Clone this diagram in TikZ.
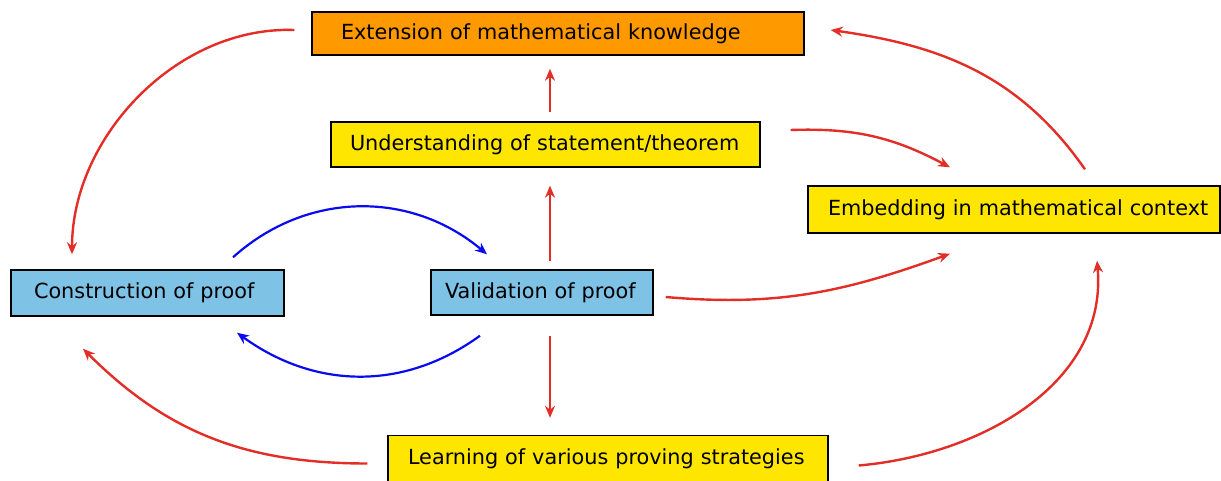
\documentclass[tikz,border=0pt]{standalone}
\usepackage{fontspec}
\setmainfont{DejaVu Sans}
\usetikzlibrary{arrows.meta}
\definecolor{boxorange}{RGB}{255,153,0}
\definecolor{boxyellow}{RGB}{255,230,0}
\definecolor{boxblue}{RGB}{126,194,230}
\definecolor{arrred}{RGB}{226,46,38}
\definecolor{arrblue}{RGB}{10,10,240}

\tikzset{
  stage/.style={draw=black, line width=0.7pt, inner xsep=0pt, inner ysep=0pt,
    align=left, minimum height=22.5pt, font=\fontsize{10.4}{12.5}\selectfont},
  redarrow/.style={draw=arrred, line width=1.2pt, -{Stealth[length=6pt,width=5pt]}},
  bluearrow/.style={draw=arrblue, line width=1.1pt, -{Stealth[length=6pt,width=5pt]}},
}

\begin{document}
\begin{tikzpicture}[x=0.5pt,y=-0.5pt]
  \useasboundingbox (0,0) rectangle (1221,481);
  % boxes
  \node[stage,fill=boxorange,text width=246pt,minimum height=21.5pt] (ext) at (558,33.5) {\hspace*{14.5pt}Extension of mathematical knowledge};
  \node[stage,fill=boxyellow,text width=214.5pt] (und) at (545.5,144.5) {\hspace*{9.5pt}Understanding of statement/theorem};
  \node[stage,fill=boxyellow,text width=206pt,minimum height=23.5pt] (emb) at (1014,209.5) {\hspace*{10pt}Embedding in mathematical context};
  \node[stage,fill=boxblue,text width=136.5pt,minimum height=23pt] (con) at (147.5,293) {\hspace*{11.5pt}Construction of proof};
  \node[stage,fill=boxblue,text width=111pt] (val) at (542,292.5) {\hspace*{7pt}Validation of proof};
  \node[stage,fill=boxyellow,text width=220pt,minimum height=23pt] (lea) at (608,458.5) {\hspace*{10pt}Learning of various proving strategies};
  % outer red arrows
  \draw[redarrow] ([xshift=-8.5pt,yshift=1.75pt]ext.west) to[out=178,in=90,looseness=0.95] ([xshift=-37.75pt,yshift=7.5pt]con.north);
  \draw[redarrow] ([xshift=35.5pt,yshift=8pt]emb.north) to[out=125,in=-8] ([xshift=13pt,yshift=1.75pt]ext.east);
  \draw[redarrow] ([xshift=-10pt,yshift=-2.5pt]lea.west) to[out=180,in=-45] ([xshift=-32.25pt,yshift=-16pt]con.south);
  \draw[redarrow] ([xshift=15pt,yshift=-3.5pt]lea.east) to[out=5,in=-85] ([xshift=41.5pt,yshift=-13.5pt]emb.south);
  % inner red arrows
  \draw[redarrow] ([xshift=2.25pt,yshift=4.5pt]und.north) -- ([xshift=-4pt,yshift=-6.5pt]ext.south);
  \draw[redarrow] ([xshift=4pt,yshift=4pt]val.north) -- ([xshift=2.25pt,yshift=-9pt]und.south);
  \draw[redarrow] ([xshift=4pt,yshift=-10pt]val.south) -- ([xshift=-29pt,yshift=8.5pt]lea.north);
  \draw[redarrow] ([xshift=15pt,yshift=7.25pt]und.east) to[out=2,in=152] ([xshift=-32pt,yshift=9pt]emb.north);
  \draw[redarrow] ([xshift=6pt,yshift=-2.25pt]val.east) to[out=-5,in=-160] ([xshift=-32pt,yshift=-10pt]emb.south);
  % blue cycle
  \draw[bluearrow] ([xshift=42.75pt,yshift=6pt]con.north) to[out=42,in=140] ([xshift=-27.5pt,yshift=7.5pt]val.north);
  \draw[bluearrow] ([xshift=-31pt,yshift=-10pt]val.south) to[out=-144,in=-36] ([xshift=44.75pt,yshift=-8pt]con.south);
\end{tikzpicture}
\end{document}
